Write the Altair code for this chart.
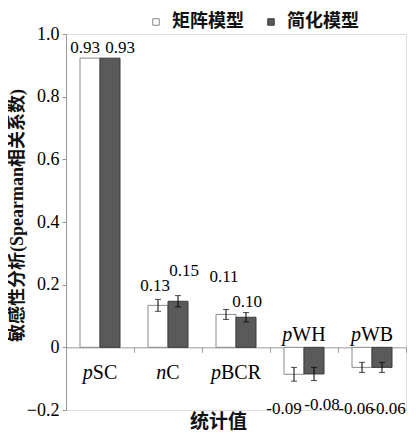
import altair as alt
import pandas as pd

categories = ["pSC", "nC", "pBCR", "pWH", "pWB"]
cat_prefix = ["p", "n", "p", "p", "p"]
cat_suffix = ["SC", "C", "BCR", "WH", "WB"]
series = ["矩阵模型", "简化模型"]
matrix_vals = [0.923, 0.134, 0.105, -0.086, -0.064]
simple_vals = [0.923, 0.147, 0.096, -0.085, -0.064]
matrix_err = [0.0, 0.019, 0.016, 0.022, 0.016]
simple_err = [0.0, 0.018, 0.015, 0.021, 0.016]
matrix_labels = ["0.93", "0.13", "0.11", "-0.09", "-0.06"]
simple_labels = ["0.93", "0.15", "0.10", "-0.08", "-0.06"]
y_ticks = [-0.2, 0.0, 0.2, 0.4, 0.6, 0.8, 1.0]

# label placement (pixels) per (category index, series index)
label_shift = {
    (0, 0): (-5, -10), (0, 1): (10, -10),
    (1, 0): (-3, -19), (1, 1): (6, -30),
    (2, 0): (-2, -37), (2, 1): (1, -15),
    (3, 0): (-10, 35), (3, 1): (8, 31),
    (4, 0): (-6, 42), (4, 1): (6, 42),
}

FONT = "Liberation Serif, Noto Sans CJK SC"
W, H = 340, 376
Y_MIN, Y_MAX = -0.2, 1.0
zero_from_bottom = H * (0 - Y_MIN) / (Y_MAX - Y_MIN)

rows = []
for i, c in enumerate(categories):
    for s, vals, errs, labs in [(series[0], matrix_vals, matrix_err, matrix_labels),
                                (series[1], simple_vals, simple_err, simple_labels)]:
        rows.append({"cat": c, "series": s, "value": vals[i], "err": errs[i],
                     "lo": vals[i] - errs[i], "hi": vals[i] + errs[i], "label": labs[i]})
df = pd.DataFrame(rows)

xenc = alt.X("cat:N", sort=categories, scale=alt.Scale(paddingInner=0, paddingOuter=0),
             axis=alt.Axis(labels=False, title="统计值", offset=-zero_from_bottom,
                           tickBand="extent", tickSize=5, tickColor="#999999",
                           domainColor="#999999", titleFont="Noto Sans CJK SC",
                           titleFontSize=19, titleFontWeight="bold", titleColor="#111111",
                           titleX=152, titleY=74, titleBaseline="middle", titleAlign="center"))
xoff = alt.XOffset("series:N", sort=series, scale=alt.Scale(paddingOuter=0.7, paddingInner=0))
yscale = alt.Scale(domain=[Y_MIN, Y_MAX], nice=False, zero=False)
yenc = alt.Y("value:Q", scale=yscale,
             axis=alt.Axis(values=y_ticks, grid=False, tickSize=4, tickColor="#999999",
                           domainColor="#999999",
                           labelExpr="datum.value == 0 ? '0' : format(datum.value, '.1f')",
                           labelFont="Liberation Serif", labelFontSize=18, labelColor="black",
                           labelPadding=3,
                           title="敏感性分析(Spearman相关系数)", titleFont=FONT,
                           titleFontSize=18, titleFontWeight="bold", titleColor="#111111",
                           titleX=-49, titleY=181, titleAngle=270,
                           titleAlign="center", titleBaseline="middle"))

base = alt.Chart(df)

bars = base.mark_bar(strokeWidth=1).encode(
    x=xenc, xOffset=xoff, y=yenc, y2=alt.Y2(datum=0),
    color=alt.Color("series:N", sort=series,
                    scale=alt.Scale(domain=series, range=["#ffffff", "#5a5a5a"]),
                    legend=alt.Legend(title=None, orient="none", legendX=81, legendY=-21,
                                      direction="horizontal", symbolType="square",
                                      symbolSize=42, symbolStrokeColor="#333333",
                                      symbolStrokeWidth=1, labelFont="Noto Sans CJK SC",
                                      labelFontSize=18, labelFontWeight="bold",
                                      labelColor="#111111", labelOffset=7,
                                      columnPadding=18)),
    stroke=alt.Stroke("series:N", sort=series,
                      scale=alt.Scale(domain=series, range=["#8a8a8a", "#3a3a3a"]),
                      legend=None),
)

eb = base.transform_filter("datum.err > 0")
err_rule = eb.mark_rule(color="black", strokeWidth=1).encode(
    x=xenc, xOffset=xoff, y=alt.Y("lo:Q", scale=yscale), y2="hi:Q")
cap_lo = eb.mark_tick(color="black", thickness=1, size=6, orient="horizontal").encode(
    x=xenc, xOffset=xoff, y=alt.Y("lo:Q", scale=yscale))
cap_hi = eb.mark_tick(color="black", thickness=1, size=6, orient="horizontal").encode(
    x=xenc, xOffset=xoff, y=alt.Y("hi:Q", scale=yscale))

layers = [bars, err_rule, cap_lo, cap_hi]

for (ci, si), (dx, dy) in label_shift.items():
    layers.append(
        base.transform_filter(
            f"datum.cat == '{categories[ci]}' && datum.series == '{series[si]}'"
        ).mark_text(font="Liberation Serif", fontSize=17, color="black",
                    baseline="middle", align="center", dx=dx, dy=dy).encode(
            x=xenc, xOffset=xoff, y=alt.Y("value:Q", scale=yscale), text="label:N")
    )

# category labels with italic prefix
cw = {"S": 0.556, "C": 0.667, "B": 0.667, "R": 0.667, "W": 0.944, "H": 0.722,
      "p": 0.5, "n": 0.5}
CFS = 20
cat_df = pd.DataFrame({"cat": categories, "prefix": cat_prefix, "suffix": cat_suffix})
for i, c in enumerate(categories):
    pw = sum(cw[ch] for ch in cat_prefix[i]) * CFS
    sw = sum(cw[ch] for ch in cat_suffix[i]) * CFS
    split = -(sw - pw) / 2
    dy = 26 if matrix_vals[i] >= 0 else -12
    sub = alt.Chart(cat_df).transform_filter(f"datum.cat == '{c}'")
    layers.append(sub.mark_text(font="Liberation Serif", fontSize=CFS, fontStyle="italic",
                                color="black", align="right", baseline="middle",
                                dx=split, dy=dy).encode(
        x=xenc, y=alt.Y(datum=0, scale=yscale), text="prefix:N"))
    layers.append(sub.mark_text(font="Liberation Serif", fontSize=CFS, color="black",
                                align="left", baseline="middle", dx=split, dy=dy).encode(
        x=xenc, y=alt.Y(datum=0, scale=yscale), text="suffix:N"))

chart = alt.layer(*layers).properties(
    width=W, height=H,
    autosize=alt.AutoSizeParams(type="none"),
    padding={"left": 58, "top": 26, "right": 2, "bottom": 23},
).configure_view(stroke=None).configure(background="white")

chart.save("out.html", embed_options={"renderer": "svg", "actions": False})
